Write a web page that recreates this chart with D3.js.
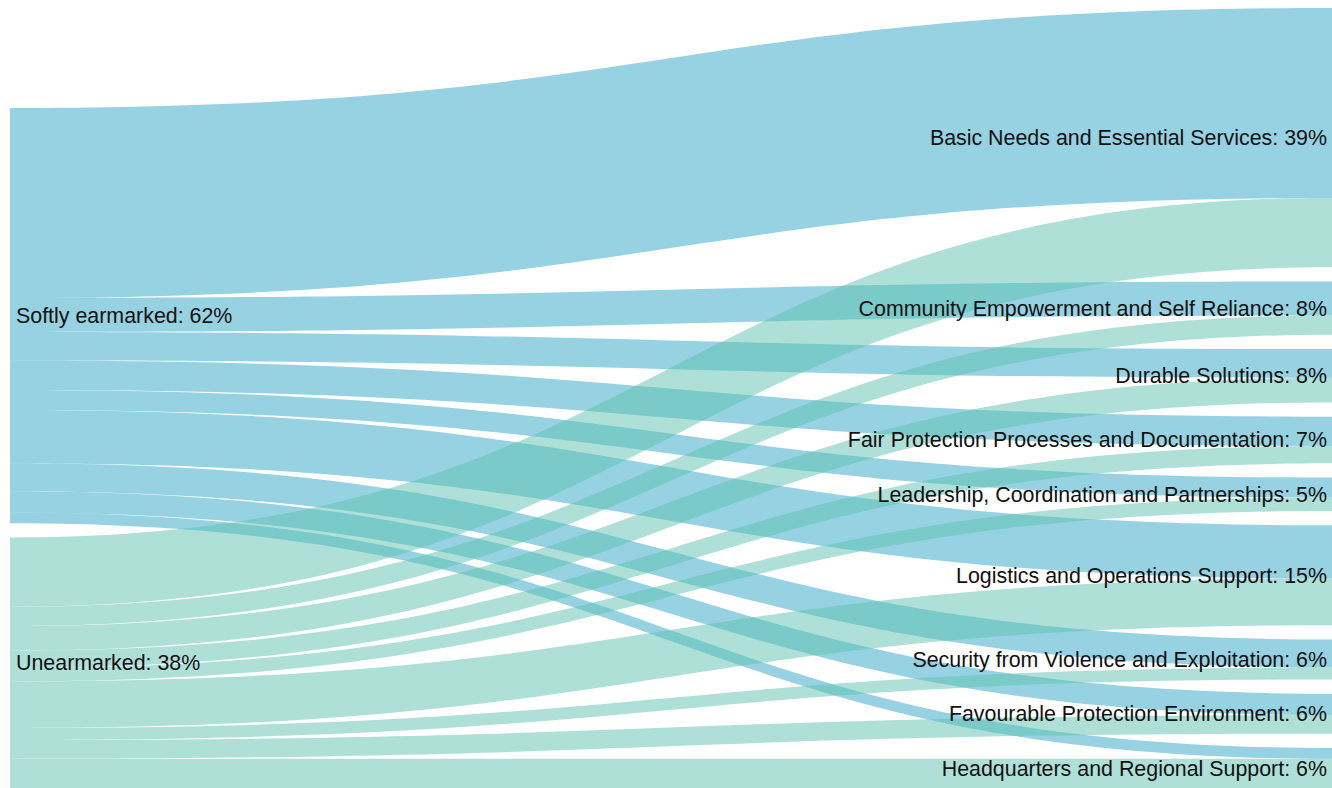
<!DOCTYPE html>
<html>
<head>
<meta charset="utf-8">
<script src="https://cdn.jsdelivr.net/npm/d3@7"></script>
<style>
  html, body { margin: 0; padding: 0; background: #fff; }
  svg { display: block; }
  text { font-family: "Liberation Sans", Arial, sans-serif; font-size: 21.4px; fill: #111; }
</style>
</head>
<body>
<svg id="chart" width="1332" height="788"></svg>
<script>
// funding type (left) -> pillar (right), values in % of total
const sources = ["Softly earmarked", "Unearmarked"];
const targets = [
  "Basic Needs and Essential Services",
  "Community Empowerment and Self Reliance",
  "Durable Solutions",
  "Fair Protection Processes and Documentation",
  "Leadership, Coordination and Partnerships",
  "Logistics and Operations Support",
  "Security from Violence and Exploitation",
  "Favourable Protection Environment",
  "Headquarters and Regional Support"
];
const softValues  = [28.5, 5.1, 4.3, 4.4, 3.0, 8.0, 4.2, 3.2, 1.6];
const unearValues = [10.4, 2.9, 3.7, 2.6, 2.0, 7.0, 1.8, 2.8, 4.4];
const sourceColors = ["#2da5c5", "#5dc1b1"];

const width = 1332, height = 788;
const margin = { top: 8, right: 0, bottom: 0, left: 10 };
const nodePad = 14.3;

const series = [softValues, unearValues];
const links = [];
series.forEach((vals, si) => vals.forEach((v, ti) => links.push({ source: si, target: ti, value: v })));

const srcTotals = series.map(v => d3.sum(v));
const tgtTotals = targets.map((t, i) => d3.sum(series, v => v[i]));

const innerH = height - margin.top - margin.bottom;
const ky = (innerH - (targets.length - 1) * nodePad) / d3.sum(tgtTotals);
const y = d3.scaleLinear().domain([0, 1]).range([0, ky]);
const x = d3.scaleLinear().domain([0, 1]).range([margin.left, width - margin.right]);

// right column stacks from the top, left column sits on the bottom
const tgtNodes = [];
let yy = margin.top;
tgtTotals.forEach((v, i) => {
  tgtNodes.push({ name: targets[i], value: v, y0: yy, y1: yy + y(v) });
  yy += y(v) + nodePad;
});
const leftH = d3.sum(srcTotals, v => y(v)) + (sources.length - 1) * nodePad;
const srcNodes = [];
yy = height - margin.bottom - leftH;
srcTotals.forEach((v, i) => {
  srcNodes.push({ name: sources[i], value: v, y0: yy, y1: yy + y(v) });
  yy += y(v) + nodePad;
});

// link offsets inside nodes: sources in target order, targets in source order
const sOff = srcNodes.map(n => n.y0);
const tOff = tgtNodes.map(n => n.y0);
links.forEach(l => {
  const w = y(l.value);
  l.sy0 = sOff[l.source]; l.sy1 = l.sy0 + w; sOff[l.source] += w;
  l.ty0 = tOff[l.target]; l.ty1 = l.ty0 + w; tOff[l.target] += w;
});

function ribbon(l) {
  const x0 = x(0), x1 = x(1), xm = (x0 + x1) / 2;
  const p = d3.path();
  p.moveTo(x0, l.sy0);
  p.bezierCurveTo(xm, l.sy0, xm, l.ty0, x1, l.ty0);
  p.lineTo(x1, l.ty1);
  p.bezierCurveTo(xm, l.ty1, xm, l.sy1, x0, l.sy1);
  p.closePath();
  return p.toString();
}

const svg = d3.select("#chart");

svg.append("g")
  .attr("class", "links")
  .selectAll("path")
  .data(links)
  .join("path")
  .attr("d", ribbon)
  .attr("fill", d => sourceColors[d.source])
  .attr("fill-opacity", 0.5);

svg.append("g")
  .attr("class", "src-labels")
  .selectAll("text")
  .data(srcNodes)
  .join("text")
  .attr("x", x(0) + 6)
  .attr("y", d => (d.y0 + d.y1) / 2)
  .attr("dy", "0.35em")
  .attr("text-anchor", "start")
  .text(d => `${d.name}: ${Math.round(d.value)}%`);

svg.append("g")
  .attr("class", "tgt-labels")
  .selectAll("text")
  .data(tgtNodes)
  .join("text")
  .attr("x", x(1) - 5)
  .attr("y", d => (d.y0 + d.y1) / 2)
  .attr("dy", "0.35em")
  .attr("text-anchor", "end")
  .text(d => `${d.name}: ${Math.round(d.value)}%`);
</script>
</body>
</html>
